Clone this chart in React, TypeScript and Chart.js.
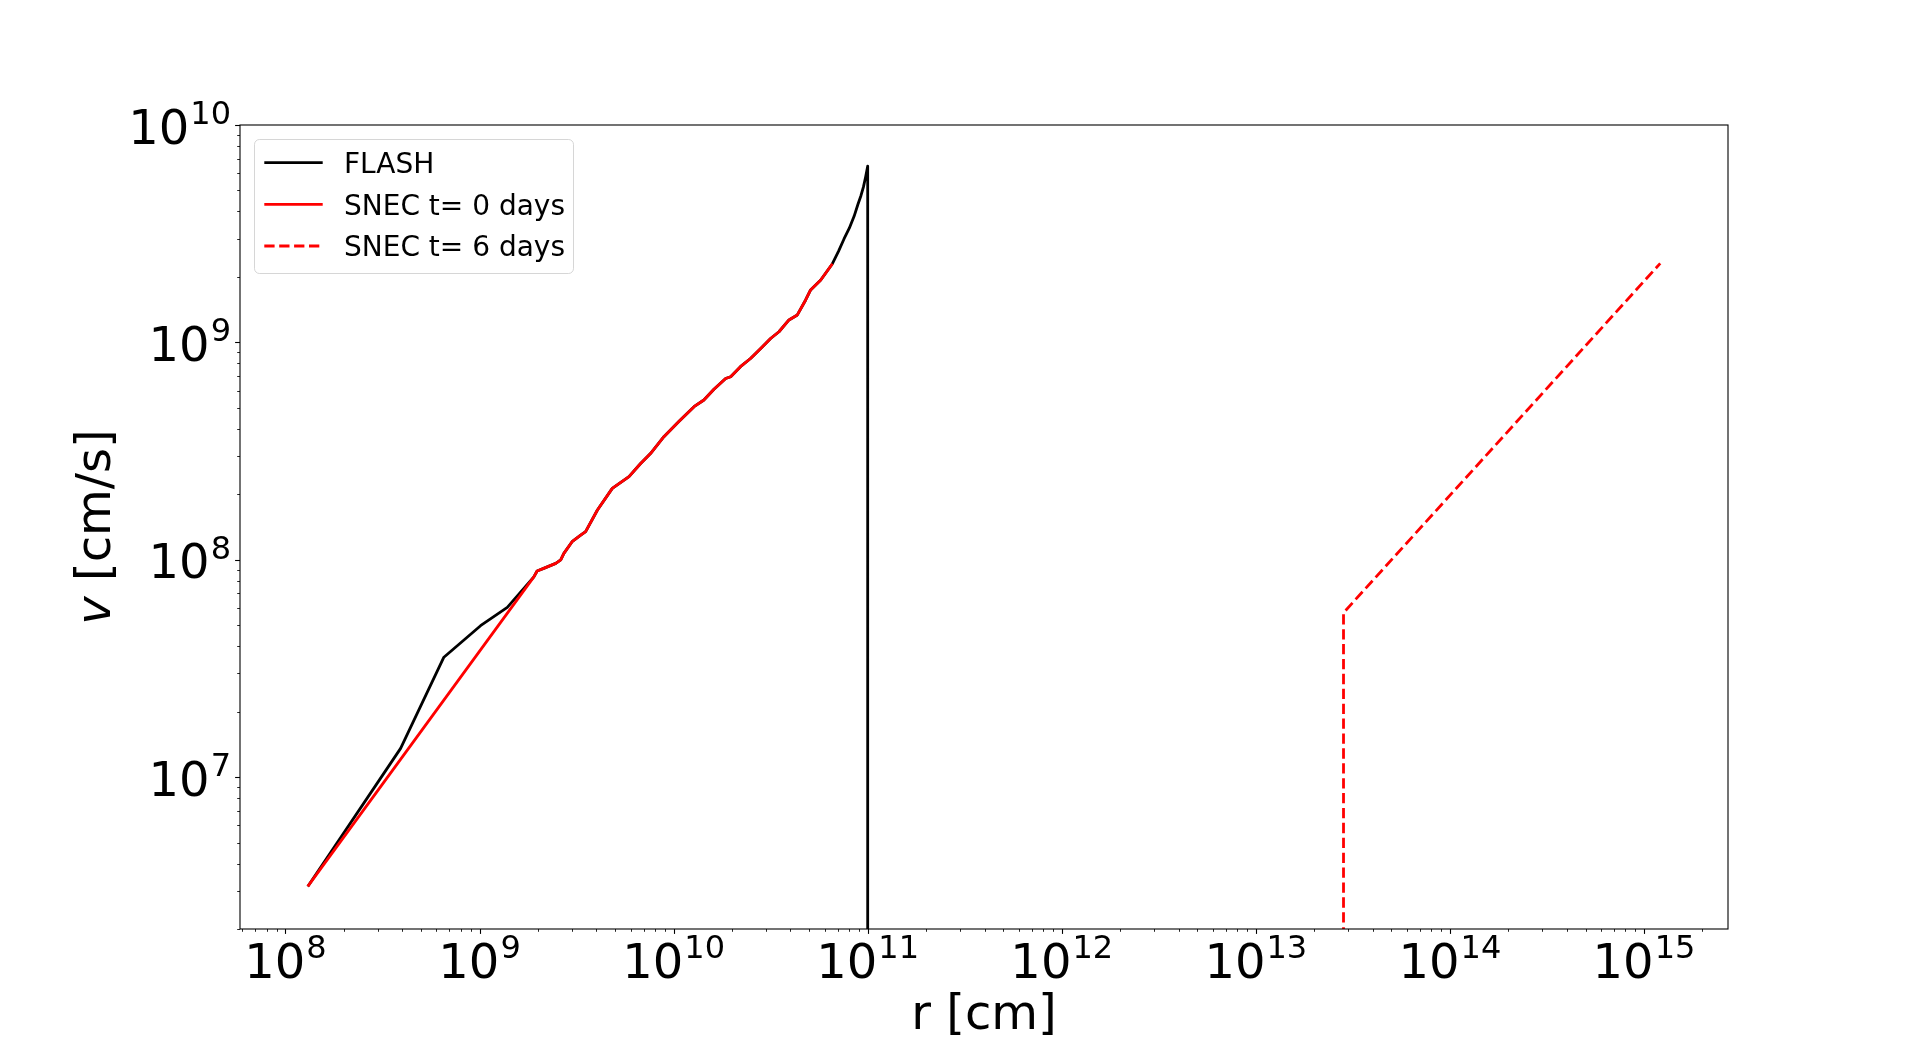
import React, { useEffect, useRef } from "react";
import { Chart, registerables } from "chart.js";

Chart.register(...registerables);

// ---- Data ----
// FLASH profile (black)
const flashR = [
  1.303e8, 3.92e8, 6.55e8, 1.012e9, 1.39e9, 1.905e9, 1.98e9, 2.14e9, 2.47e9, 2.62e9,
  2.72e9, 3.01e9, 3.32e9, 3.52e9, 4.05e9, 4.83e9, 5.89e9, 6.76e9, 7.6e9, 8.91e9,
  1.064e10, 1.274e10, 1.432e10, 1.614e10, 1.854e10, 1.968e10, 2.21e10, 2.49e10, 2.81e10, 3.16e10,
  3.49e10, 3.93e10, 4.34e10, 4.79e10, 5.08e10, 5.73e10, 6.58e10, 7.08e10, 7.55e10, 8.04e10,
  8.51e10, 8.91e10, 9.23e10, 9.51e10, 9.75e10, 1.0e11, 1.0e11,
];
const flashV = [
  3.14e6, 1.355e7, 3.56e7, 4.97e7, 6.04e7, 8.34e7, 8.87e7, 9.12e7, 9.62e7, 9.98e7,
  1.069e8, 1.216e8, 1.297e8, 1.346e8, 1.694e8, 2.13e8, 2.41e8, 2.77e8, 3.08e8, 3.68e8,
  4.32e8, 5.06e8, 5.43e8, 6.08e8, 6.82e8, 6.95e8, 7.73e8, 8.43e8, 9.38e8, 1.042e9,
  1.119e9, 1.268e9, 1.337e9, 1.567e9, 1.742e9, 1.936e9, 2.3e9, 2.63e9, 2.99e9, 3.35e9,
  3.8e9, 4.32e9, 4.73e9, 5.19e9, 5.75e9, 6.46e9, 1.0e4,
];

// SNEC t = 0 days (red solid)
const snec0R = [
  1.303e8, 1.905e9, 1.98e9, 2.14e9, 2.47e9, 2.62e9, 2.72e9, 3.01e9, 3.32e9, 3.52e9,
  4.05e9, 4.83e9, 5.89e9, 6.76e9, 7.6e9, 8.91e9, 1.064e10, 1.274e10, 1.432e10, 1.614e10,
  1.854e10, 1.968e10, 2.21e10, 2.49e10, 2.81e10, 3.16e10, 3.49e10, 3.93e10, 4.34e10, 4.79e10,
  5.08e10, 5.73e10, 6.58e10,
];
const snec0V = [
  3.14e6, 8.34e7, 8.87e7, 9.12e7, 9.62e7, 9.98e7, 1.069e8, 1.216e8, 1.297e8, 1.346e8,
  1.694e8, 2.13e8, 2.41e8, 2.77e8, 3.08e8, 3.68e8, 4.32e8, 5.06e8, 5.43e8, 6.08e8,
  6.82e8, 6.95e8, 7.73e8, 8.43e8, 9.38e8, 1.042e9, 1.119e9, 1.268e9, 1.337e9, 1.567e9,
  1.742e9, 1.936e9, 2.3e9,
];

// SNEC t = 6 days (red dashed)
const snec6R = [2.83e13, 2.83e13, 1.213e15];
const snec6V = [1.0e4, 5.7e7, 2.31e9];

// Axes
const xMin = 5.83e7;
const xMax = 2.71e15;
const yMin = 2e6;
const yMax = 1e10;
const xTickExponents = [8, 9, 10, 11, 12, 13, 14, 15];
const yTickExponents = [7, 8, 9, 10];
const xAxisTitle = "r [cm]";
const yAxisTitleItalic = "v";
const yAxisTitleRest = " [cm/s]";
const seriesLabels = ["FLASH", "SNEC t= 0 days", "SNEC t= 6 days"];

const FONT = '"DejaVu Sans", "Noto Sans", sans-serif';
const LW = 2.8;
const DASH = [10.3, 4.6];
const SUP = 32;

function toPoints(rs: number[], vs: number[]) {
  return rs.map((r, i) => ({ x: r, y: vs[i] }));
}

function drawPow(ctx: CanvasRenderingContext2D, exp: number, left: number, baseY: number) {
  ctx.font = `48px ${FONT}`;
  const bw = ctx.measureText("10").width;
  ctx.fillText("10", left, baseY);
  ctx.font = `${SUP}px ${FONT}`;
  ctx.fillText(String(exp), left + bw + 1, baseY - 19.5);
}

function powWidth(ctx: CanvasRenderingContext2D, exp: number) {
  ctx.font = `48px ${FONT}`;
  const bw = ctx.measureText("10").width;
  ctx.font = `${SUP}px ${FONT}`;
  const sw = ctx.measureText(String(exp)).width;
  return bw + 1 + sw;
}

const mplAxes = {
  id: "mplAxes",
  afterDatasetsDraw(chart: any) {
    const { ctx, chartArea: a, scales } = chart;
    const xs = scales.x;
    const ys = scales.y;
    ctx.save();
    ctx.fillStyle = "#000";
    ctx.strokeStyle = "#000";
    ctx.textAlign = "left";
    ctx.textBaseline = "alphabetic";

    // ticks - x
    for (let n = 7; n <= 15; n++) {
      for (let k = 1; k <= 9; k++) {
        const v = k * Math.pow(10, n);
        if (v < xMin * 0.9999 || v > xMax * 1.0001) continue;
        const px = Math.round(xs.getPixelForValue(v)) + 0.5;
        const major = k === 1;
        ctx.lineWidth = major ? 1.1 : 0.85;
        ctx.beginPath();
        ctx.moveTo(px, a.bottom);
        ctx.lineTo(px, a.bottom + (major ? 4.9 : 2.8));
        ctx.stroke();
      }
    }
    // ticks - y
    for (let n = 6; n <= 10; n++) {
      for (let k = 1; k <= 9; k++) {
        const v = k * Math.pow(10, n);
        if (v < yMin * 0.9999 || v > yMax * 1.0001) continue;
        const py = Math.round(ys.getPixelForValue(v)) + 0.5;
        const major = k === 1;
        ctx.lineWidth = major ? 1.1 : 0.85;
        ctx.beginPath();
        ctx.moveTo(a.left, py);
        ctx.lineTo(a.left - (major ? 4.9 : 2.8), py);
        ctx.stroke();
      }
    }

    // frame
    ctx.lineWidth = 1.1;
    ctx.strokeRect(a.left, a.top, a.right - a.left, a.bottom - a.top);

    // tick labels - x
    for (const e of xTickExponents) {
      const px = xs.getPixelForValue(Math.pow(10, e));
      const w = powWidth(ctx, e);
      drawPow(ctx, e, px - w / 2, a.bottom + 48.5);
    }
    // tick labels - y
    for (const e of yTickExponents) {
      const py = ys.getPixelForValue(Math.pow(10, e));
      const w = powWidth(ctx, e);
      drawPow(ctx, e, a.left - 9 - w, py + 18.5);
    }

    // axis titles
    ctx.font = `48px ${FONT}`;
    ctx.textAlign = "center";
    ctx.fillText(xAxisTitle, (a.left + a.right) / 2, 1029);

    ctx.save();
    ctx.translate(110, (a.top + a.bottom) / 2);
    ctx.rotate(-Math.PI / 2);
    ctx.textAlign = "left";
    ctx.font = `italic 48px ${FONT}`;
    const wi = ctx.measureText(yAxisTitleItalic).width;
    ctx.font = `48px ${FONT}`;
    const wr = ctx.measureText(yAxisTitleRest).width;
    const start = -(wi + wr) / 2;
    ctx.font = `italic 48px ${FONT}`;
    ctx.fillText(yAxisTitleItalic, start, 0);
    ctx.font = `48px ${FONT}`;
    ctx.fillText(yAxisTitleRest, start + wi, 0);
    ctx.restore();

    // legend
    const lx = a.left + 14.5;
    const ly = a.top + 14.5;
    const lw = 319;
    const lh = 134;
    const rad = 5;
    ctx.beginPath();
    ctx.moveTo(lx + rad, ly);
    ctx.lineTo(lx + lw - rad, ly);
    ctx.arcTo(lx + lw, ly, lx + lw, ly + rad, rad);
    ctx.lineTo(lx + lw, ly + lh - rad);
    ctx.arcTo(lx + lw, ly + lh, lx + lw - rad, ly + lh, rad);
    ctx.lineTo(lx + rad, ly + lh);
    ctx.arcTo(lx, ly + lh, lx, ly + lh - rad, rad);
    ctx.lineTo(lx, ly + rad);
    ctx.arcTo(lx, ly, lx + rad, ly, rad);
    ctx.closePath();
    ctx.fillStyle = "rgba(255,255,255,0.8)";
    ctx.fill();
    ctx.strokeStyle = "rgba(204,204,204,0.8)";
    ctx.lineWidth = 1;
    ctx.stroke();

    const ds = chart.data.datasets;
    const rows = [162.7, 204.3, 246];
    for (let i = 0; i < seriesLabels.length; i++) {
      const d = ds[i];
      ctx.beginPath();
      ctx.strokeStyle = d.borderColor;
      ctx.lineWidth = LW;
      ctx.lineCap = "butt";
      ctx.setLineDash(d.borderDash || []);
      ctx.moveTo(264.3, rows[i]);
      ctx.lineTo(322.7, rows[i]);
      ctx.stroke();
      ctx.setLineDash([]);
      ctx.fillStyle = "#000";
      ctx.font = `28px ${FONT}`;
      ctx.textAlign = "left";
      ctx.fillText(seriesLabels[i], 344, rows[i] + 10.3);
    }
    ctx.restore();
  },
};

export default function App() {
  const ref = useRef<HTMLCanvasElement | null>(null);

  useEffect(() => {
    document.body.style.margin = "0";
    document.body.style.overflow = "hidden";
    const canvas = ref.current;
    if (!canvas) return;
    const chart = new Chart(canvas, {
      type: "line",
      data: {
        datasets: [
          {
            label: seriesLabels[0],
            data: toPoints(flashR, flashV),
            borderColor: "#000000",
            borderWidth: LW,
            borderJoinStyle: "round",
            borderCapStyle: "butt",
            pointRadius: 0,
            tension: 0,
            fill: false,
            order: 3,
            clip: 0,
          },
          {
            label: seriesLabels[1],
            data: toPoints(snec0R, snec0V),
            borderColor: "#ff0000",
            borderWidth: LW,
            borderJoinStyle: "round",
            borderCapStyle: "butt",
            pointRadius: 0,
            tension: 0,
            fill: false,
            order: 2,
            clip: 0,
          },
          {
            label: seriesLabels[2],
            data: toPoints(snec6R, snec6V),
            borderColor: "#ff0000",
            borderWidth: LW,
            borderDash: DASH,
            borderJoinStyle: "round",
            borderCapStyle: "butt",
            pointRadius: 0,
            tension: 0,
            fill: false,
            order: 1,
            clip: 0,
          },
        ],
      } as any,
      options: {
        responsive: false,
        maintainAspectRatio: false,
        devicePixelRatio: 1,
        animation: false,
        parsing: true,
        layout: { padding: { left: 240, top: 125, right: 192, bottom: 115 } },
        plugins: {
          legend: { display: false },
          tooltip: { enabled: false },
          title: { display: false },
        },
        events: [],
        scales: {
          x: { type: "logarithmic", min: xMin, max: xMax, display: false },
          y: { type: "logarithmic", min: yMin, max: yMax, display: false },
        },
      } as any,
      plugins: [mplAxes],
    });
    return () => chart.destroy();
  }, []);

  return (
    <div style={{ position: "fixed", left: 0, top: 0, width: 1920, height: 1044, background: "#fff" }}>
      <canvas ref={ref} width={1920} height={1044} style={{ display: "block", width: 1920, height: 1044 }} />
    </div>
  );
}
